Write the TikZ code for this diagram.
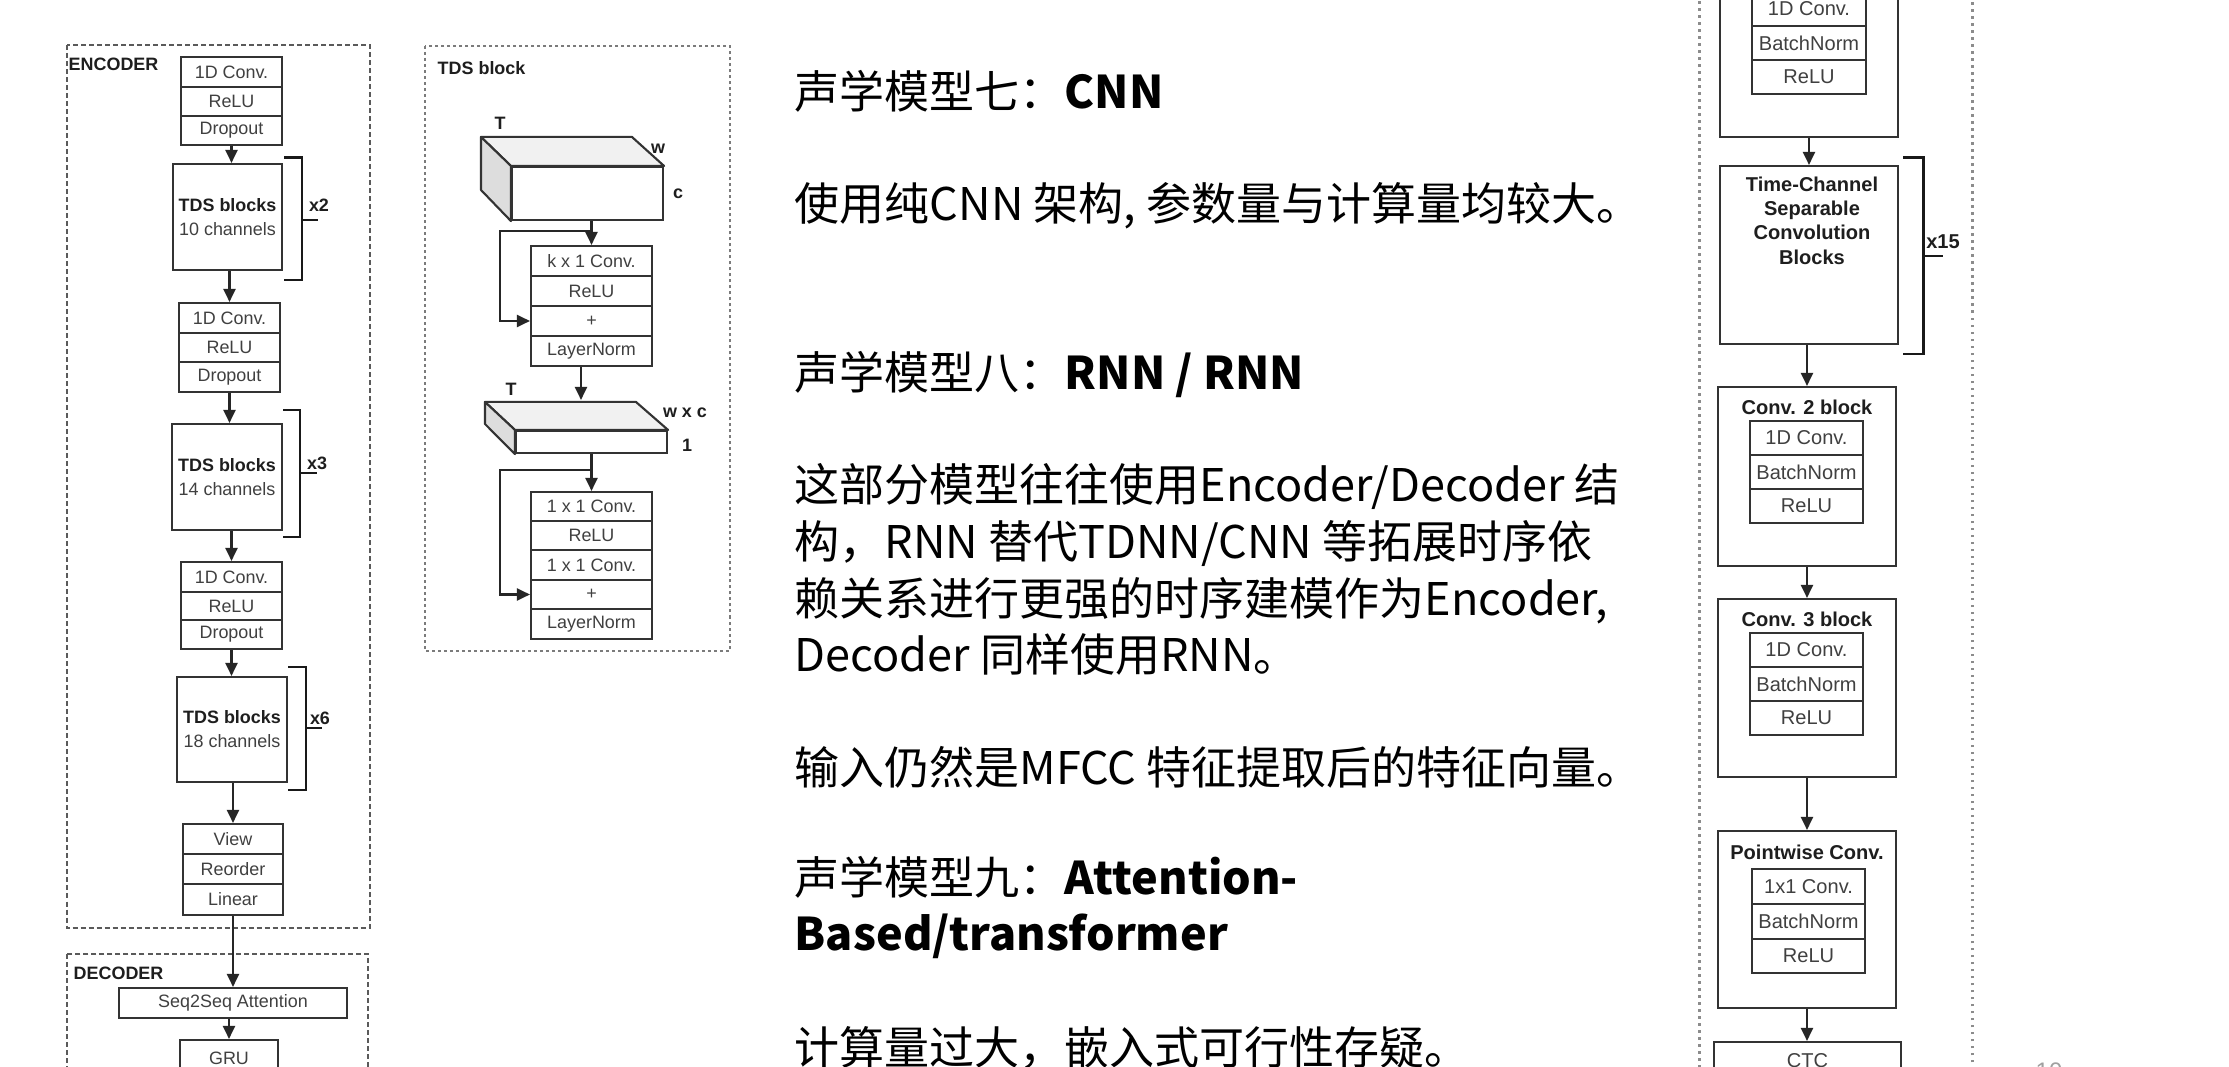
\documentclass[tikz,border=0pt]{standalone}
\usepackage{fontspec}
\setmainfont{Liberation Sans}
\newfontfamily\cjk{Noto Sans CJK SC}
\usetikzlibrary{arrows.meta,calc}

\definecolor{ink}{HTML}{333333}
\definecolor{txt}{HTML}{404040}
\definecolor{ttl}{HTML}{1E1E1E}
\definecolor{frame}{HTML}{5A5A5A}
\definecolor{faceA}{HTML}{F1F1F1}
\definecolor{faceB}{HTML}{DDDDDD}
\definecolor{pgnum}{HTML}{A0A0A0}

\tikzset{
  wh/.style n args={2}{minimum width=#1*0.01cm, minimum height=#2*0.01cm},
  box/.style={draw=ink, line width=0.6pt, fill=white, inner sep=0pt,
              text=txt, align=center, font=\fontsize{5.1}{6.8}\selectfont},
  rbox/.style={box, font=\fontsize{5.7}{6.9}\selectfont},
  ttlfont/.style={text=ttl, font=\bfseries\fontsize{5.1}{6.8}\selectfont, inner sep=0pt},
  rttl/.style={text=ttl, font=\bfseries\fontsize{5.7}{6.9}\selectfont, inner sep=0pt, align=center},
  arr/.style={draw=black!85, line width=0.6pt, -{Triangle[length=0.13cm, width=0.12cm]}},
  brk/.style={draw=black!90, line width=0.85pt},
  encdash/.style={draw=frame, line width=0.6pt, dash pattern=on 0.05cm off 0.03cm},
  tdsdash/.style={draw=frame!80, line width=0.6pt, dash pattern=on 0.03cm off 0.03cm},
  rdot/.style={draw=black!45, line width=0.85pt, dash pattern=on 0.025cm off 0.045cm},
  face/.style={draw=ink, line width=0.6pt, line join=round},
  cjkt/.style={anchor=base west, inner sep=0pt, text=black,
               font=\cjk\fontsize{12.8}{16}\selectfont},
}

\begin{document}
\begin{tikzpicture}[x=0.01cm, y=-0.01cm]
\useasboundingbox (0,0) rectangle (2229,1067);
\clip (0,0) rectangle (2229,1067);
\fill[white] (0,0) rectangle (2229,1067);

% ---------------- encoder / decoder ----------------
\draw[encdash] (67,45) rectangle (370,928);
\draw[encdash] (67,954) rectangle (368,1120);
\node[ttlfont, anchor=west] (enclbl) at (68,64) {ENCODER};
\node[ttlfont, anchor=west] (declbl) at (73,973) {DECODER};

\node[box, wh={101}{30}] (e1a) at (231.5,72) {1D Conv.};
\node[box, wh={101}{29}] (e1b) at (231.5,101.5) {ReLU};
\node[box, wh={101}{29}] (e1c) at (231.5,130.5) {Dropout};

\node[box, wh={109}{106}] (tds1) at (227.5,217) {{\bfseries\color{ttl}TDS blocks}\\10 channels};

\node[box, wh={101}{30}] (e2a) at (229.5,318) {1D Conv.};
\node[box, wh={101}{29}] (e2b) at (229.5,347.5) {ReLU};
\node[box, wh={101}{30}] (e2c) at (229.5,377) {Dropout};

\node[box, wh={110}{106}] (tds2) at (227,477) {{\bfseries\color{ttl}TDS blocks}\\14 channels};

\node[box, wh={101}{30}] (e3a) at (231.5,577) {1D Conv.};
\node[box, wh={101}{28}] (e3b) at (231.5,606) {ReLU};
\node[box, wh={101}{29}] (e3c) at (231.5,634.5) {Dropout};

\node[box, wh={110}{105}] (tds3) at (232,729.5) {{\bfseries\color{ttl}TDS blocks}\\18 channels};

\node[box, wh={100}{30}] (v1) at (233,839) {View};
\node[box, wh={100}{30}] (v2) at (233,869) {Reorder};
\node[box, wh={100}{31}] (v3) at (233,899.5) {Linear};

\node[box, wh={228}{30}] (att) at (233,1003) {Seq2Seq Attention};
\node[box, wh={98}{36}] (gru) at (229,1058) {GRU};

\draw[arr] (e1c.south) -- (e1c.south |- tds1.north);
\draw[arr] (tds1.south -| e2a.north) -- (e2a.north);
\draw[arr] (e2c.south) -- (e2c.south |- tds2.north);
\draw[arr] (tds2.south -| e3a.north) -- (e3a.north);
\draw[arr] (e3c.south) -- (e3c.south |- tds3.north);
\draw[arr] (tds3.south -| v1.north) -- (v1.north);
\draw[arr] (v3.south) -- (att.north);
\draw[arr] (att.south -| gru.north) -- (gru.north);

% repeat brackets
\draw[brk] (284,158) -- (302,158) -- (302,280) -- (284,280);
\draw[brk] (302,220) -- (318,220);
\node[ttlfont] (rep1) at (319,205) {x2};
\draw[brk] (283,410) -- (300,410) -- (300,537) -- (283,537);
\draw[brk] (300,473) -- (317,473);
\node[ttlfont] (rep2) at (317,463) {x3};
\draw[brk] (288,667) -- (306,667) -- (306,790) -- (288,790);
\draw[brk] (306,728) -- (322,728);
\node[ttlfont] (rep3) at (320,718) {x6};

% ---------------- TDS block detail ----------------
\draw[tdsdash] (425,46) rectangle (730,651);
\node[ttlfont, anchor=west] (tdslbl) at (437,68) {TDS block};

\node[box, wh={151}{53}] (cube1) at (587.5,193.5) {};
\filldraw[face, fill=faceA] (cube1.north west) -- ++(-30,-29) -- ++(151,0) -- (cube1.north east) -- cycle;
\filldraw[face, fill=faceB] (cube1.north west) -- ++(-30,-29) -- ++(0,53) -- (cube1.south west) -- cycle;
\node[ttlfont] (lT1) at (500,123) {T};
\node[ttlfont] (lw1) at (658,149) {w};
\node[ttlfont] (lc1) at (678,194) {c};

\node[box, wh={121}{30}] (k1) at (591.5,261) {k x 1 Conv.};
\node[box, wh={121}{30}] (k2) at (591.5,291) {ReLU};
\node[box, wh={121}{30}] (k3) at (591.5,321) {+};
\node[box, wh={121}{30}] (k4) at (591.5,351) {LayerNorm};

\draw[arr] (k1.north |- cube1.south) -- (k1.north);
\coordinate (br1) at ($(k1.north)+(0,-14)$);
\draw[arr] (br1) -| ($(k3.west)+(-30,0)$) -- (k3.west);

\node[box, wh={151}{22}] (slab) at (591.5,442) {};
\filldraw[face, fill=faceA] (slab.north west) -- ++(-30,-28) -- ++(151,0) -- (slab.north east) -- cycle;
\filldraw[face, fill=faceB] (slab.north west) -- ++(-30,-28) -- ++(0,22) -- (slab.south west) -- cycle;
\node[ttlfont] (lT2) at (511,389) {T};
\node[ttlfont] (lw2) at (685,413) {w x c};
\node[ttlfont] (l12) at (687,445) {1};

\coordinate (slabback) at ($(slab.north)+(-10.5,-30)$);
\draw[arr] (k4.south -| slabback) -- (slabback);

\node[box, wh={121}{29}] (m1) at (591.5,506.5) {1 x 1 Conv.};
\node[box, wh={121}{29}] (m2) at (591.5,535.5) {ReLU};
\node[box, wh={121}{30}] (m3) at (591.5,565) {1 x 1 Conv.};
\node[box, wh={121}{29}] (m4) at (591.5,594.5) {+};
\node[box, wh={121}{30}] (m5) at (591.5,624) {LayerNorm};

\draw[arr] (slab.south -| m1.north) -- (m1.north);
\coordinate (br2) at ($(m1.north)+(0,-21)$);
\draw[arr] (br2) -| ($(m4.west)+(-30,0)$) -- (m4.west);

% ---------------- text column ----------------
\node[cjkt] (t1) at (794,109) {声学模型七：\textbf{CNN}};
\node[cjkt] (t2) at (794,221) {使用纯CNN 架构, 参数量与计算量均较大。};
\node[cjkt] (t3) at (794,390) {声学模型八：\textbf{RNN / RNN}};
\node[cjkt] (t4) at (794,502) {这部分模型往往使用Encoder/Decoder 结};
\node[cjkt] (t5) at (794,559) {构，RNN 替代TDNN/CNN 等拓展时序依};
\node[cjkt] (t6) at (794,616) {赖关系进行更强的时序建模作为Encoder,};
\node[cjkt] (t7) at (794,672) {Decoder 同样使用RNN。};
\node[cjkt] (t8) at (794,785) {输入仍然是MFCC 特征提取后的特征向量。};
\node[cjkt] (t9) at (794,894) {声学模型九：\textbf{Attention-}};
\node[cjkt] (t10) at (794,950) {\textbf{Based/transformer}};
\node[cjkt] (t11) at (794,1064) {计算量过大，嵌入式可行性存疑。};

% ---------------- Jasper-style stack ----------------
\draw[rdot] (1699,-20) rectangle (1972,1120);

\node[rbox, wh={178}{197}] (c1) at (1809,38.5) {};
\node[rbox, wh={114}{34}] (c1a) at (1809,9) {1D Conv.};
\node[rbox, wh={114}{34}] (c1b) at (1809,43) {BatchNorm};
\node[rbox, wh={114}{34}] (c1c) at (1809,77) {ReLU};

\node[rbox, wh={178}{178}] (tcs) at (1809,255) {};
\node[rttl, anchor=north] (tcst) at (1812,176) {Time-Channel\\Separable\\Convolution\\Blocks};

\draw[brk] (1903,158) -- (1923,158) -- (1923,354) -- (1903,354);
\draw[brk] (1923,256) -- (1943,256);
\node[rttl] (rep4) at (1943,242) {x15};

\node[rbox, wh={178}{179}] (cv2) at (1807,476.5) {};
\node[rttl] (cv2t) at (1807,407) {Conv. 2 block};
\node[rbox, wh={113}{34}] (cv2a) at (1806.5,438) {1D Conv.};
\node[rbox, wh={113}{34}] (cv2b) at (1806.5,472) {BatchNorm};
\node[rbox, wh={113}{34}] (cv2c) at (1806.5,506) {ReLU};

\node[rbox, wh={178}{178}] (cv3) at (1807,688) {};
\node[rttl] (cv3t) at (1807,619) {Conv. 3 block};
\node[rbox, wh={113}{34}] (cv3a) at (1806.5,650) {1D Conv.};
\node[rbox, wh={113}{34}] (cv3b) at (1806.5,684) {BatchNorm};
\node[rbox, wh={113}{34}] (cv3c) at (1806.5,718) {ReLU};

\node[rbox, wh={178}{177}] (pw) at (1807,919.5) {};
\node[rttl] (pwt) at (1807,852) {Pointwise Conv.};
\node[rbox, wh={113}{35}] (pwa) at (1808.5,886.5) {1x1 Conv.};
\node[rbox, wh={113}{35}] (pwb) at (1808.5,921.5) {BatchNorm};
\node[rbox, wh={113}{34}] (pwc) at (1808.5,956) {ReLU};

\node[rbox, wh={187}{38}] (ctc) at (1807.5,1061) {CTC};

\draw[arr] (c1.south) -- (c1.south |- tcs.north);
\draw[arr] (tcs.south -| cv2.north) -- (cv2.north);
\draw[arr] (cv2.south) -- (cv3.north);
\draw[arr] (cv3.south) -- (pw.north);
\draw[arr] (pw.south) -- (pw.south |- ctc.north);

% page number
\node[anchor=north west, inner sep=0pt, text=pgnum, font=\fontsize{6.8}{8}\selectfont] (pg) at (2035,1062) {10};
\end{tikzpicture}
\end{document}
